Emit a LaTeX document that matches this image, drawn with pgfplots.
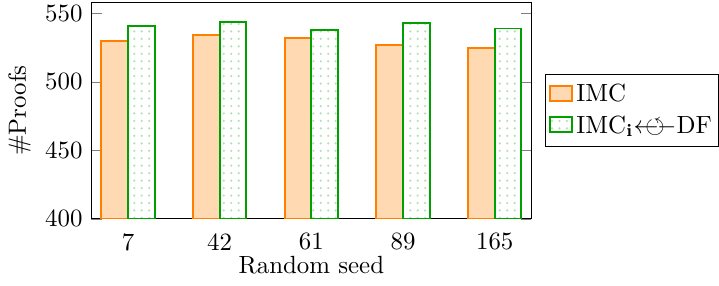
\documentclass[border=0pt]{standalone}
\usepackage{pgfplots}
\usepackage{amssymb}
\pgfplotsset{compat=1.18}
\usetikzlibrary{patterns}
\definecolor{myorange}{RGB}{255,128,0}
\definecolor{mygreen}{RGB}{0,160,0}
\newcommand{\dfarrow}{\mbox{$\leftarrow\mkern-9.5mu\circlearrowleft\mkern-10.5mu-$}}
\begin{document}
\begin{tikzpicture}
\begin{axis}[
  scale only axis,
  width=177pt, height=87pt,
  ybar=0pt,
  bar width=0.29,
  xmin=-0.4, xmax=4.4,
  ymin=400, ymax=558,
  xtick={0,1,2,3,4},
  xticklabels={7,42,61,89,165},
  ytick={400,450,500,550},
  ylabel={\#Proofs},
  xlabel={Random seed},
  ylabel style={yshift=-1pt},
  xlabel style={yshift=4.5pt},
  xticklabel style={yshift=2pt},
  major tick style={gray},
  x tick style={draw=none},
  legend style={name=leg, at={(1.03,0.5)}, anchor=west, legend cell align=left, draw=black,
    inner xsep=1.5pt, nodes={inner xsep=1.2pt}},
  legend image code/.code={\draw[#1] (0cm,-0.08cm) rectangle (0.32cm,0.13cm);},
]
\addplot[draw=myorange, fill=myorange!30, line width=0.8pt] coordinates {(0,530) (1,534) (2,532) (3,527) (4,525)};
\addplot[draw=mygreen, pattern=dots, pattern color=mygreen!30, line width=0.8pt] coordinates {(0,541) (1,544) (2,538) (3,543) (4,539)};
\legend{IMC, IMC$_{\mathbf{i}}$\dfarrow DF}
\end{axis}
\pgfresetboundingbox
\path[use as bounding box] ([yshift=-1pt]current axis.outer south west) rectangle ([yshift=1pt]leg.east |- current axis.north east);
\end{tikzpicture}
\end{document}
